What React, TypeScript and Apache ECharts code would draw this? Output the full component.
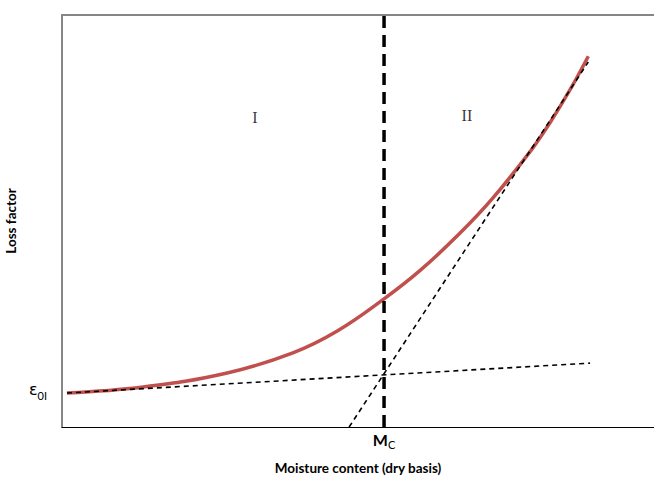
import React, { useEffect, useRef } from "react";
import * as echarts from "echarts";

// Data in arbitrary units (x: moisture 0..100, y: loss factor 0..100)
const curveX = [0.84, 13.7, 27.9, 39.0, 46.5, 54.4, 60.5, 67.2, 72.8, 79.1, 82.4, 85.8, 88.9];
const curveY = [8.25, 9.7, 13.1, 18.0, 23.3, 31.1, 38.0, 47.0, 55.6, 66.9, 73.8, 81.8, 90.0];
const lowTangentX = [0.84, 89.2];
const lowTangentY = [8.25, 15.5];
const highTangentX = [48.5, 88.9];
const highTangentY = [0, 88.6];
const mcValue = 54.4;
const eps0Value = 8.25;
const regionNames = ["I", "II"];
const regionX = [32.6, 68.4];
const regionY = [75.2, 75.5];

const zip = (xs: number[], ys: number[]) => xs.map((x, i) => [x, ys[i]]);

export default function App() {
  const ref = useRef<HTMLDivElement>(null);
  useEffect(() => {
    if (!ref.current) return;
    const chart = echarts.init(ref.current, null, { renderer: "svg" });
    const font = "Lato, 'Open Sans', sans-serif";
    chart.setOption({
      animation: false,
      grid: { left: 62, right: 0, top: 15, bottom: 50, outerBoundsMode: "none", containLabel: false },
      xAxis: [
        {
          type: "value",
          min: 0,
          max: 100,
          position: "bottom",
          name: "Moisture content (dry basis)",
          nameLocation: "middle",
          nameGap: 34,
          nameTextStyle: { fontFamily: font, fontWeight: "bold", fontSize: 13.5, color: "#000" },
          axisLine: { show: true, onZero: false, lineStyle: { color: "#000", width: 1.2 } },
          axisTick: { show: false },
          splitLine: { show: false },
          axisLabel: {
            customValues: [mcValue],
            margin: 4,
            formatter: () => "{a|M}{b|C}",
            rich: {
              a: { fontFamily: font, fontSize: 16, fontWeight: "bold", color: "#000", padding: [0, 0, 3, 0], verticalAlign: "bottom" },
              b: { fontFamily: font, fontSize: 11, color: "#000", verticalAlign: "bottom" },
            },
          },
        },
        {
          type: "value",
          min: 0,
          max: 100,
          position: "top",
          axisLine: { show: true, onZero: false, lineStyle: { color: "#868686", width: 2 } },
          axisTick: { show: false },
          axisLabel: { show: false },
          splitLine: { show: false },
        },
      ],
      yAxis: {
        type: "value",
        min: 0,
        max: 100,
        name: "Loss factor",
        nameLocation: "middle",
        nameGap: 37,
        nameTextStyle: { fontFamily: font, fontWeight: "bold", fontSize: 13.5, color: "#000" },
        axisLine: { show: true, onZero: false, lineStyle: { color: "#868686", width: 2 } },
        axisTick: { show: false },
        splitLine: { show: false },
        axisLabel: {
          customValues: [eps0Value],
          margin: 15,
          formatter: () => "{a|ε}{b|0I}",
          rich: {
            a: { fontFamily: "'DejaVu Sans', sans-serif", fontSize: 16, color: "#000", padding: [0, 0, 8, 0], verticalAlign: "bottom" },
            b: { fontFamily: font, fontSize: 11, color: "#000", padding: [0, 0, 4, 0], verticalAlign: "bottom" },
          },
        },
      },
      series: [
        {
          type: "line",
          data: zip(curveX, curveY),
          smooth: 0.4,
          showSymbol: false,
          lineStyle: { color: "#c0504d", width: 3.5 },
          z: 2,
        },
        {
          type: "line",
          data: zip(lowTangentX, lowTangentY),
          showSymbol: false,
          lineStyle: { color: "#000", width: 1.6, type: [5, 4] },
          z: 3,
        },
        {
          type: "line",
          data: zip(highTangentX, highTangentY),
          showSymbol: false,
          lineStyle: { color: "#000", width: 1.6, type: [5, 4] },
          z: 3,
        },
        {
          type: "line",
          data: [
            [mcValue, 0],
            [mcValue, 100],
          ],
          showSymbol: false,
          lineStyle: { color: "#000", width: 3.5, type: [12, 7] },
          z: 4,
        },
        {
          type: "scatter",
          symbolSize: 0,
          data: regionNames.map((n, i) => ({ name: n, value: [regionX[i], regionY[i]] })),
          label: {
            show: true,
            position: "inside",
            formatter: (p: any) => p.name,
            fontFamily: "'Liberation Serif', serif",
            fontSize: 16,
            color: "#000",
          },
          z: 5,
        },
      ],
    });
    return () => chart.dispose();
  }, []);
  return <div ref={ref} style={{ width: 654, height: 477, position: "absolute", left: 0, top: 0 }} />;
}
